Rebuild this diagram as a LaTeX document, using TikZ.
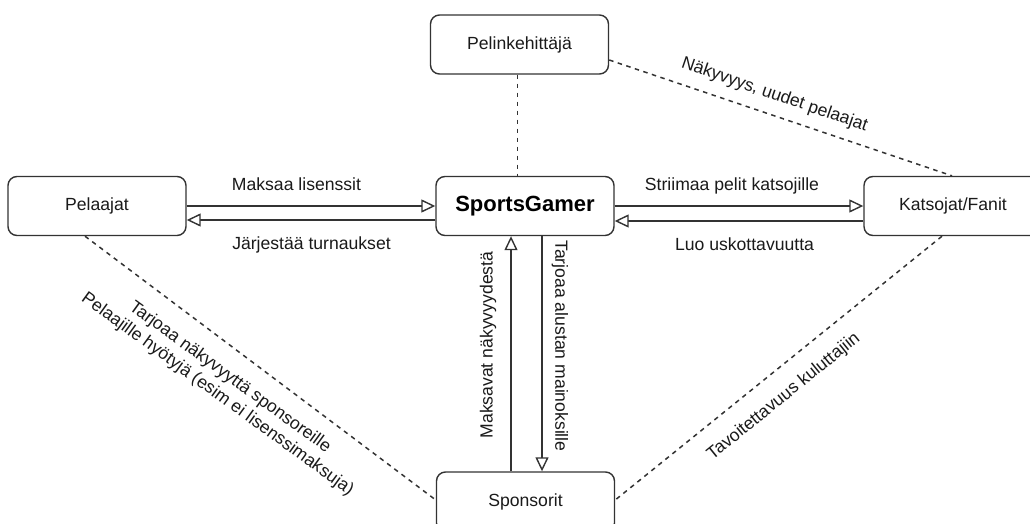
\documentclass[tikz,border=0pt]{standalone}
\usepackage{fontspec}
\setmainfont{Liberation Sans}
\usetikzlibrary{arrows.meta}
\definecolor{linec}{HTML}{333333}
\definecolor{txt}{HTML}{1A1A1A}
\begin{document}
\begin{tikzpicture}[x=1pt,y=-1pt,
  box/.style={draw=linec, line width=1.4pt, rounded corners=9pt, minimum width=178pt, minimum height=59pt, inner sep=0pt, font=\fontsize{17.6pt}{21pt}\selectfont, text=txt},
  lbl/.style={inner sep=0pt, font=\fontsize{17.6pt}{21pt}\selectfont, text=txt},
  arr/.style={draw=linec, line width=1.4pt, -{Triangle[fill=white, length=14pt, width=13pt, line width=1.4pt]}},
  dsh/.style={draw=linec, line width=1.5pt, dash pattern=on 4.5pt off 4.5pt}]
\clip (0,0) rectangle (1030,524);
\useasboundingbox (0,0) rectangle (1030,524);
\fill[white] (0,0) rectangle (1030,524);

% boxes
\node[box] (pk) at (519.5,44.5) {Pelinkehittäjä};
\node[box, font=\fontsize{22pt}{26pt}\selectfont\bfseries, text=black] (sg) at (525,206) {SportsGamer};
\node[box] (pl) at (97,206) {Pelaajat};
\node[box] (kf) at (953,206) {Katsojat/Fanit};
\node[box, minimum height=60pt] (sp) at (525.5,502) {Sponsorit};

% solid arrows
\draw[arr] (pl.east) -- (sg.west);
\draw[arr] ([yshift=-14pt]sg.west) -- ([yshift=-14pt]pl.east);
\draw[arr] (sg.east) -- (kf.west);
\draw[arr] ([yshift=-15pt]kf.west) -- ([yshift=-15pt]sg.east);
\draw[arr] ([xshift=-14.5pt]sp.north) -- ([xshift=-14pt]sg.south);
\draw[arr] ([xshift=17pt]sg.south) -- ([xshift=16.5pt]sp.north);

% dashed connectors
\draw[dsh] ([xshift=-2pt]pk.south) -- ([xshift=-2pt]pk.south |- sg.north);
\draw[dsh] ([yshift=-15.5pt]pk.east) -- ([xshift=-1pt]kf.north);
\draw[dsh] ([xshift=-12pt]pl.south) -- ([yshift=2pt]sp.west);
\draw[dsh] ([xshift=-11pt]kf.south) -- ([yshift=2pt]sp.east);

% labels
\node[lbl, anchor=base] (l1) at (296.5,190) {Maksaa lisenssit};
\node[lbl, anchor=base] (l2) at (311.5,249.5) {Järjestää turnaukset};
\node[lbl, anchor=base] (l3) at (732,190.5) {Striimaa pelit katsojille};
\node[lbl, anchor=base] (l4) at (744.5,250) {Luo uskottavuutta};
\node[lbl, rotate=-19] (l5) at (774.5,95) {Näkyvyys, uudet pelaajat};
\node[lbl, rotate=-36, align=center] (l6) at (223.7,386) {Tarjoaa näkyvyyttä sponsoreille\\Pelaajille hyötyjä (esim ei lisenssimaksuja)};
\node[lbl, rotate=39] (l7) at (783.8,396.7) {Tavoitettavuus kuluttajiin};
\node[lbl, rotate=90] (l8) at (488,345) {Maksavat näkyvyydestä};
\node[lbl, rotate=-90] (l9) at (560,346) {Tarjoaa alustan mainoksille};
\end{tikzpicture}
\end{document}
